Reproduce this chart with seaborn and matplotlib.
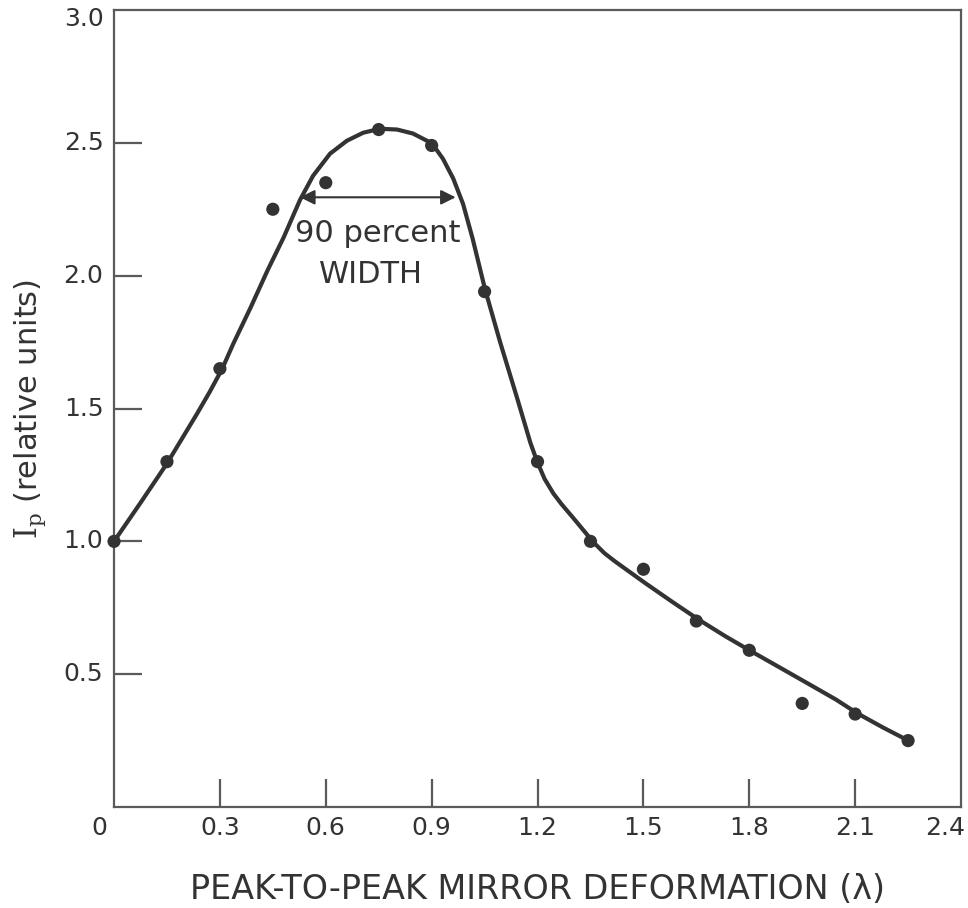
import matplotlib
matplotlib.use("Agg")
import matplotlib.pyplot as plt
import seaborn as sns
import pandas as pd

# Measured data points
point_x = [0.0, 0.15, 0.30, 0.45, 0.60, 0.75, 0.90, 1.05, 1.20, 1.35, 1.50, 1.65, 1.80, 1.95, 2.10, 2.25]
point_y = [1.0, 1.30, 1.65, 2.25, 2.35, 2.55, 2.49, 1.94, 1.30, 1.00, 0.895, 0.70, 0.59, 0.39, 0.35, 0.25]

# Smooth fitted curve
curve_x = [0.0, 0.075, 0.15, 0.235, 0.27, 0.306, 0.338, 0.387, 0.435, 0.481, 0.499, 0.527,
           0.564, 0.612, 0.660, 0.706, 0.754, 0.802, 0.847, 0.901, 0.932, 0.961, 0.989,
           1.016, 1.051, 1.094, 1.142, 1.18, 1.199, 1.22, 1.245, 1.268, 1.30, 1.325,
           1.358, 1.39, 1.419, 1.505, 1.581, 1.657, 1.732, 1.803, 1.884, 1.97, 2.045,
           2.107, 2.178, 2.258]
curve_y = [1.0, 1.145, 1.293, 1.48, 1.56, 1.648, 1.744, 1.88, 2.02, 2.145, 2.2, 2.285,
           2.376, 2.459, 2.508, 2.538, 2.553, 2.550, 2.535, 2.498, 2.44, 2.366, 2.27,
           2.14, 1.95, 1.75, 1.54, 1.37, 1.30, 1.235, 1.18, 1.14, 1.09, 1.05,
           0.997, 0.955, 0.925, 0.843, 0.773, 0.705, 0.643, 0.588, 0.527, 0.462, 0.405,
           0.352, 0.30, 0.245]

x_ticks = [0.3, 0.6, 0.9, 1.2, 1.5, 1.8, 2.1]
x_tick_labels = ["0", "0.3", "0.6", "0.9", "1.2", "1.5", "1.8", "2.1", "2.4"]
y_ticks = [0.5, 1.0, 1.5, 2.0, 2.5]
y_tick_labels = ["0.5", "1.0", "1.5", "2.0", "2.5", "3.0"]

arrow_start = (0.527, 2.295)
arrow_end = (0.968, 2.295)

sns.set_theme(style="white")
plt.rcParams["font.family"] = ["DejaVu Sans"]
plt.rcParams["mathtext.fontset"] = "dejavuserif"

ink = "#333333"
spine_c = "#5a5a5a"

fig = plt.figure(figsize=(9.68, 9.08), dpi=100)
ax = fig.add_axes([0.1178, 0.1112, 0.8750, 0.8778])

curve_df = pd.DataFrame({"x": curve_x, "y": curve_y})
pts_df = pd.DataFrame({"x": point_x, "y": point_y})

sns.lineplot(data=curve_df, x="x", y="y", ax=ax, color=ink, linewidth=3.0,
             sort=False, estimator=None, zorder=3,
             solid_joinstyle="round", solid_capstyle="round")
sns.scatterplot(data=pts_df, x="x", y="y", ax=ax, color=ink, s=90,
                edgecolor="none", zorder=4, clip_on=False)

ax.set_xlim(0, 2.4)
ax.set_ylim(0, 3.0)

for s in ax.spines.values():
    s.set_color(spine_c)
    s.set_linewidth(1.6)

ax.set_xticks(x_ticks)
ax.set_xticklabels([])
ax.set_yticks(y_ticks)
ax.set_yticklabels([])
ax.tick_params(axis="both", direction="in", length=20, width=1.6, color=spine_c,
               bottom=True, left=True, top=False, right=False)

label_x_vals = [0.0] + x_ticks + [2.4]
for v, lab in zip(label_x_vals, x_tick_labels):
    dx = -0.043 if v == 0.0 else (-0.045 if v == 2.4 else 0.0)
    ax.text(v + dx, -0.035, lab, ha="center", va="top", fontsize=18, color=ink,
            transform=ax.transData, clip_on=False)
label_y_vals = y_ticks + [3.0]
for v, lab in zip(label_y_vals, y_tick_labels):
    vy = 2.965 if v == 3.0 else v
    ax.text(-0.03, vy, lab, ha="right", va="center", fontsize=18, color=ink,
            transform=ax.transData, clip_on=False)

ax.set_xlabel("PEAK-TO-PEAK MIRROR DEFORMATION (λ)", fontsize=24, color=ink, labelpad=44)
ax.set_ylabel(r"$\mathrm{I_p}$ (relative units)", fontsize=22, color=ink, labelpad=44)

ax.annotate("", xy=arrow_start, xytext=arrow_end,
            arrowprops=dict(arrowstyle="<|-|>", color=ink, lw=1.5,
                            mutation_scale=22, shrinkA=0, shrinkB=0))
ax.text(0.748, 2.16, "90 percent", ha="center", va="center", fontsize=22, color=ink)
ax.text(0.728, 2.004, "WIDTH", ha="center", va="center", fontsize=22, color=ink)

fig.savefig("out.png", dpi=100, facecolor="white")
